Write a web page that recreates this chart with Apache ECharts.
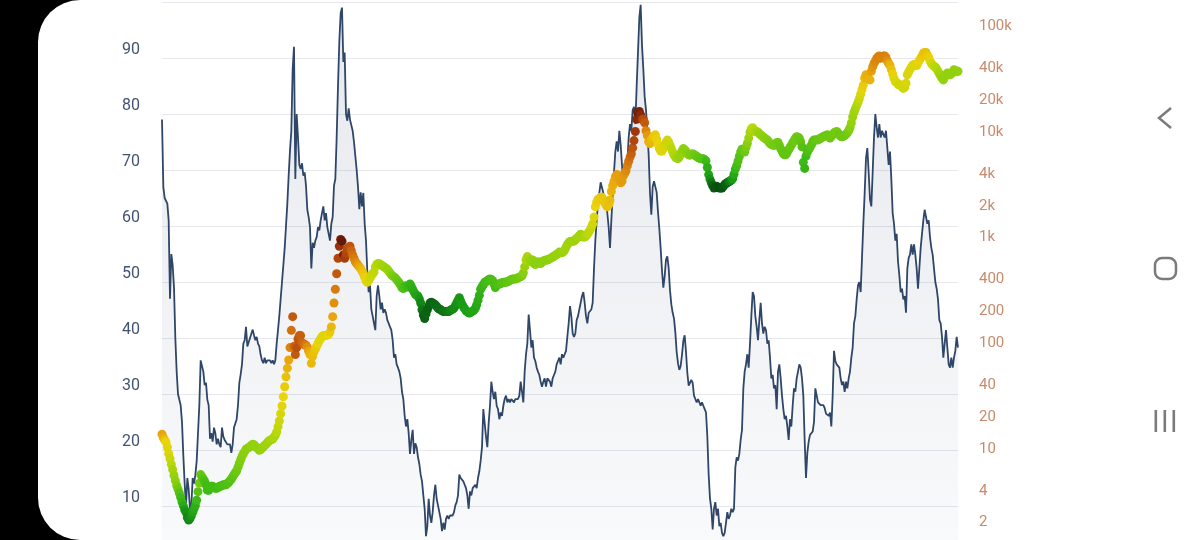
<!DOCTYPE html>
<html>
<head>
<meta charset="utf-8">
<script src="https://cdn.jsdelivr.net/npm/echarts@6/dist/echarts.min.js"></script>
<style>
html,body{margin:0;padding:0;background:#000;}
#chart{width:1200px;height:540px;}
</style>
</head>
<body>
<div id="chart"></div>
<script>
// time span (decimal years) covered by the evenly spaced samples below
const START_YEAR = 2011.5;
const END_YEAR = 2022.26;

// left axis tick labels (oscillator, 0-100)
const leftTickLabels = [10, 20, 30, 40, 50, 60, 70, 80, 90];
// right axis tick labels (price, log scale)
const rightTickLabels = [2, 4, 10, 20, 40, 100, 200, 400, 1000, 2000, 4000, 10000, 20000, 40000, 100000];

// oscillator (left axis)
const oscillator = [
79,67,65,65,64,61,47,55,53,49,
40,34,30,30,28,25,19,14,10,15,
13,9.5,10,15,14,15.5,18,23,28,36,
36,34,31.6,32,29,28,22,23,21.5,24,
23,21,22,21,20.5,24,22.4,21.8,22,21,
21,21,19.5,21,24,24,25.5,28,32,33.5,
35.3,39,39.6,42,38.5,38.5,40,40,41.5,40.5,
39.6,40.2,39,38.5,37,36,35.5,36.5,35.5,36,
36,36,35.5,36,35.3,36,39,41.4,44,47,
50,53,56,60,64,69,73.5,77,88,92,
68.4,80,75.8,70.9,70.2,71.2,69,69.6,67.2,62.9,
61.6,59.8,52.4,57,56.1,57.4,58,59.8,59.2,61,
62.3,63.5,61,62.3,59.8,58.6,57.4,60.4,61.6,67.2,
68.4,75.8,85,93,98,99,89.3,91,80,78.8,
81,79,79,77,75,72.5,70,67,63,66,
63.5,65.9,60.4,57.4,51.8,48.2,49.4,45.1,43.9,42.6,
41.4,47.5,49.4,47.5,45.1,46.3,44.5,45.1,44.5,43.2,
42.6,42,41.4,39.6,36.5,37.1,35.3,34.7,34,32.8,
30.4,29.1,26.1,24.2,25.5,23,19.3,21.8,23.6,19.3,
21.2,20.5,18.7,17.5,15.6,14.4,11.9,9.5,4.6,
6.4,11.3,8.3,7,8.9,11.9,13.8,11.3,10.1,8.9,
7.7,5.5,7,5.8,7.7,8.3,7.7,8.3,8,8.3,
8.9,10.1,10.7,11.9,15.6,15,15,14.4,13.8,13.2,
11.9,9.5,12.6,11.9,13.2,12.9,13.8,13.2,15,16.2,
18.1,20.5,27.3,24.8,22.4,20.5,24.8,27.9,32.2,30.4,
29.1,30.4,27.9,27.3,25.5,26.7,26.1,27.9,29.1,29.7,
28.5,29.1,28.5,29.1,29.1,28.5,29.1,28.8,29.1,29.7,
32.2,30.4,28.5,34,37.1,39,44.2,41.4,38.3,39.6,
36.5,35.9,34.7,34,33.4,32.2,31.3,32.2,32.8,31.3,
32.8,33.1,32.2,31.3,32.8,33.4,34,35.3,35.9,36.5,
35.3,37.1,36.5,37.1,37.7,40.2,42.6,45.7,43.9,40.8,
40.2,40.8,43.2,43.9,45.1,46.3,47.5,48.2,46.3,43.9,
42.6,44.5,44.5,45.1,46.3,52.4,57.4,61,64.1,65.9,
67.8,68.1,65.9,63.5,64.7,62.3,59.8,56.1,61,65.3,
69.6,73.3,75.1,73.3,77,74.5,70.9,67.2,69.6,70.2,
71.5,75.8,78.2,77,80.7,81.3,78.2,85,91.1,97.2,
99.5,92.3,88,83.1,80.7,77,72.7,65.9,62,67,
68,68,66,62.5,59.5,56,52,49,51,54,
54.6,52.5,48.5,46,44.5,43.5,41,37.5,35.5,34.3,
35,37,39.5,40.5,37.5,33.8,31.5,31.3,32.5,32,
29.7,29.1,28.5,29.1,28.5,27.9,28.5,27.9,27.3,26.7,
22.4,15.6,11.3,9.5,5.8,9.5,10.7,8.3,9.5,6.4,
7,5.2,4.6,5.2,7,8.9,7.7,8.3,9.5,8.9,
9.5,16.9,18.7,18.1,19.3,21.8,23.6,31,34,35.3,
37.1,34.7,39,43.9,48.2,47.5,43.9,42,39.6,43.2,
46.3,42.6,40.8,42,41.4,39,39.6,36.5,32.8,33.4,
31,31.6,27.3,34,35.3,32.8,29.7,27.3,25.5,26.1,
24.2,21.8,25.5,24.2,27.9,31,30.4,32.8,34,35.3,
34.7,32.8,29.7,21.8,15,19.5,21.5,22.7,23,23.3,
25,31,31,28.5,28.5,28,28,28,27.5,26.5,
26.5,
26.1,26.7,24.2,29.7,37.7,35.9,35.3,35.3,34.7,32.8,
31.6,32.2,30.4,32.2,31,32.8,34,36.5,38.3,42.6,
43.9,46.9,49.4,50,48.2,54.3,60.4,65.9,72.1,73.9,
69.6,64.7,63.5,69.6,75.8,80,77.6,75.8,78.2,75.8,
77,77,75.8,77,73.9,70.9,73.3,68.4,62.3,60.4,
57.4,58.6,53.7,51.2,48.2,48.8,46.9,47.5,44.5,52.4,
54.3,54.9,56.7,54.9,56.7,54.9,52.4,48.8,52.4,56.1,
58.6,61,62.9,61.6,60.4,61,58,56.1,54.9,52.4,
50,48.8,46.9,43.2,42.6,40.2,36.5,39,41.4,38.3,
35.3,34.7,36.5,34.7,36.5,37.7,40.2,38.3
];

// price in USD (right, log axis)
const price = [
16.2,15.0,14.3,13.7,12.2,10.6,9.5,8.4,7.5,6.6,
5.9,5.3,4.9,4.5,4.1,3.7,3.4,3.13,2.95,2.64,
2.5,2.58,2.74,2.95,3.18,3.43,3.84,4.63,5.58,6.72,
6.4,6.1,5.79,5.38,4.8,4.77,5.06,5.2,5.2,5.06,
4.99,4.99,5.06,5.2,5.2,5.3,5.38,5.38,5.38,5.55,
5.66,5.9,6.1,6.4,6.72,7.0,7.3,7.9,8.6,9.3,
10.0,10.6,11.1,11.7,11.9,12.1,12.3,12.7,13.0,12.9,
12.4,12.1,11.8,11.4,11.6,11.9,12.3,12.7,13.0,13.5,
13.9,14.2,14.4,14.6,15.2,15.9,17.0,19.1,21.6,25.3,
30,36.7,45.6,56.6,68.4,81.7,107,156,210,110,
92,107,129,139,139,119,115,115,112,108,
99,92,76,88.7,97.5,104,110,117,124,130,
136,139,139,139,141,143,150,168,210,283,
382,535,750,975,1130,1089,807,750,838,924,
952,975,884,807,750,695,670,645,621,598,
567,535,496,460,444,460,485,515,535,555,
621,655,670,665,650,640,626,616,602,589,
567,546,523,511,500,489,471,453,437,418,
394,388,406,412,400,403,428,406,382,360,
342,334,329,310,283,244,218,202,223,
244,263,283,287,283,277,272,263,253,248,
244,239,235,235,235,235,235,240,244,248,
253,267,283,300,317,294,275,261,250,239,
233,228,228,233,237,242,253,272,300,334,
382,403,421,444,450,460,471,478,471,460,
428,397,418,428,428,431,441,444,444,444,
450,457,464,471,478,478,478,481,489,496,
504,511,546,621,722,778,750,711,695,722,
670,655,685,695,680,670,690,706,716,722,
722,733,744,756,772,784,801,813,832,858,
845,850,863,897,952,1011,1050,1080,1089,1089,
1089,1122,1156,1191,1227,1265,1227,1191,1191,1227,
1265,1323,1385,1470,1585,1840,2300,2550,2710,2770,
2830,2830,2670,2530,2400,2300,2400,2670,3220,3650,
4030,4450,4650,4580,4190,3890,4030,4510,4750,5040,
5640,6210,6800,7320,8320,9750,11900,15500,18000,18400,
17100,15500,15500,14400,12100,10900,9500,9150,9900,10400,
10800,11050,10080,9030,8190,7780,7780,8190,8830,9370,
9900,9370,8830,8190,7600,7160,6800,6650,6600,6800,
7320,7780,8190,8000,7720,7320,7160,7100,7260,7320,
7200,7040,6890,6750,6650,6550,6550,6550,6450,6260,
5430,4650,4190,3890,3650,3470,3550,3600,3520,3470,
3470,3470,3600,3740,3830,3890,3980,4030,4130,4250,
4680,5240,5640,6210,6890,7600,8070,8000,7600,8380,
9150,10300,11700,12600,12900,12200,11900,11900,11700,11300,
11050,10800,10500,10300,10080,9900,9500,9150,8960,8830,
8830,8830,9300,9370,8830,8190,7720,7320,7160,7200,
7600,8000,8380,8830,9300,9750,10300,10600,10500,10300,
9500,8500,6070,5320,6950,7600,8000,8380,8830,9500,
9900,9900,9900,9900,10080,10300,10450,10600,10800,10900,
11050,
10700,10300,10700,11050,11550,11700,11900,11550,11050,10700,
10600,10700,10900,11200,11550,12100,12900,14300,16300,18000,
19400,20900,22500,24300,26800,29700,32700,38000,41000,39500,
37400,36600,44100,48700,52400,55300,58300,60500,61800,58700,
59600,61800,61800,59600,55300,52400,50100,45800,41600,38000,
35300,34500,33500,32700,32700,31500,30400,31100,34000,41000,
43500,45800,48400,50100,51300,50100,50100,53200,56100,58700,
61800,65500,66600,66600,63000,59600,55300,52400,50500,49400,
48400,46500,44100,41900,40100,38000,36600,39000,41000,42500,
41900,41000,41900,43500,45800,44700,43800,44100
];

// colour index of each price dot (0 = cool / dark green, 100 = hot / dark red)
const heat = [
70,68,64,60,58,56,54,50,47,45,
43,41,38,34,31,28,25,20,18,16,
16,17,19,22,24,26,30,35,39,38,
36,34,32,31,30,30,31,31,31,31,
31,31,31,32,32,32,32,33,33,33,
34,34,35,35,36,37,38,39,40,41,
42,42,43,43,43,43,43,44,44,44,
44,44,44,44,44,45,45,45,46,46,
46,47,47,47,48,48,50,52,54,56,
58,60,62,64,67,70,76,80,84,82,
84,86,85,84,83,82,82,80,78,74,
70,67,66,65,64,63,62,60,59,58,
58,58,58,58,59,60,62,66,70,74,
78,84,88,92,97,98,96,90,88,87,
86,85,82,80,78,76,74,72,70,67,
65,63,61,60,58,57,55,54,53,52,
51,50,49,48,48,47,47,46,46,45,
45,44,43,41,40,39,38,37,36,35,
34,33,32,31,30,29,28,27,26,25,
24,23,22,19,16,13,10,9,10,
9,9,10,10,10,11,11,11,12,12,
12,12,13,13,13,14,14,15,16,16,
17,17,18,18,19,19,20,20,20,21,
21,21,22,22,22,23,23,24,25,26,
27,28,29,30,31,31,32,32,32,33,
32,31,32,33,33,34,34,35,35,35,
36,36,36,37,37,37,38,38,38,39,
39,40,42,45,48,48,47,46,45,44,
43,43,43,43,43,43,43,43,43,43,
43,43,43,44,44,44,44,45,45,45,
45,45,45,46,46,46,46,46,46,46,
46,46,46,47,47,47,47,47,48,48,
50,51,52,53,55,57,60,61,62,62,
62,63,63,63,63,64,64,65,67,68,
69,70,71,71,71,71,72,72,73,75,
77,79,81,83,85,88,91,94,97,96,
94,90,87,84,76,72,69,67,66,64,
63,62,61,60,59,58,57,57,56,55,
55,54,53,51,50,49,48,47,46,45,
45,44,44,43,43,42,42,41,41,40,
39,38,37,36,36,35,35,35,34,30,
26,22,18,14,10,8,7,6,6,5,
5,6,7,8,9,10,12,14,16,20,
24,28,31,33,34,35,36,37,38,40,
42,45,47,49,50,49,48,47,46,45,
44,44,43,43,42,42,41,41,40,40,
39,39,39,38,38,37,37,36,36,36,
36,36,37,37,37,38,38,38,38,37,
36,34,30,28,30,32,33,34,35,35,
36,36,36,37,37,37,37,38,38,38,
38,
38,38,38,38,39,39,39,39,38,38,
38,38,38,39,39,40,42,44,45,46,
47,48,50,53,56,59,62,66,68,68,
67,67,71,73,74,75,76,77,77,76,
76,77,77,76,74,70,67,64,61,58,
57,56,56,55,55,55,55,55,56,57,
57,57,57,57,57,57,58,59,60,61,
62,63,64,64,63,61,58,56,54,52,
50,49,48,47,46,45,44,44,44,44,
44,44,44,44,44,44,44,44
];

const FONT = 'Roboto, "Noto Sans", "DejaVu Sans", sans-serif';
const step = (END_YEAR - START_YEAR) / (oscillator.length - 1);
const oscData = oscillator.map((v, i) => [START_YEAR + i * step, v]);
const priceData = price.map((v, i) => [START_YEAR + i * step, v, heat[i]]);

const chart = echarts.init(document.getElementById('chart'), null, { renderer: 'canvas' });

const navGrey = '#7b7b7b';
const option = {
  animation: false,
  backgroundColor: '#000000',
  grid: { left: 162, right: 242, top: 2, bottom: -22, containLabel: false, outerBoundsMode: 'none' },
  xAxis: {
    type: 'value', min: START_YEAR, max: END_YEAR, show: false
  },
  yAxis: [
    {
      type: 'value', position: 'left', min: 0, max: 100, interval: 10,
      axisLine: { show: false }, axisTick: { show: false },
      splitLine: { show: true, lineStyle: { color: '#e6e8ed', width: 1 } },
      axisLabel: {
        color: '#44536f', fontSize: 16, fontFamily: FONT, margin: 22, verticalAlign: 'bottom',
        formatter: v => leftTickLabels.indexOf(v) >= 0 ? String(v) : ''
      }
    },
    {
      type: 'log', logBase: 10, position: 'right', min: 1, max: 200000,
      axisLine: { show: false }, axisTick: { show: false }, splitLine: { show: false },
      axisLabel: {
        customValues: rightTickLabels,
        color: '#c98a6c', fontSize: 15, fontFamily: FONT, margin: 21, verticalAlign: 'bottom',
        formatter: v => v >= 1000 ? (v / 1000) + 'k' : String(v)
      }
    }
  ],
  visualMap: {
    show: false, type: 'continuous', seriesIndex: 1, dimension: 2, min: 0, max: 100,
    inRange: { color: ['#063a0a', '#0b6414', '#1a9c16', '#3cba16', '#79cc10', '#b8d80a', '#ead40a', '#e8a50c', '#d2700f', '#a83a0c', '#561106'] }
  },
  series: [
    {
      type: 'line', xAxisIndex: 0, yAxisIndex: 0, data: oscData,
      symbol: 'none', showSymbol: false, z: 2,
      lineStyle: { color: '#2f4668', width: 1.8 },
      areaStyle: {
        color: new echarts.graphic.LinearGradient(0, 0, 0, 1, [
          { offset: 0, color: 'rgba(58,80,115,0.18)' },
          { offset: 1, color: 'rgba(58,80,115,0.04)' }
        ])
      }
    },
    {
      type: 'scatter', xAxisIndex: 0, yAxisIndex: 1, data: priceData,
      symbol: 'circle', symbolSize: 9, z: 3,
      itemStyle: { opacity: 1 }
    }
  ],
  graphic: [
    { type: 'rect', z: -100, silent: true, shape: { x: 38, y: 0, width: 1250, height: 540, r: [42, 0, 0, 42] }, style: { fill: '#ffffff' } },
    { type: 'polyline', z: 10, silent: true, shape: { points: [[1171, 108], [1159, 118], [1171, 128]] }, style: { stroke: navGrey, lineWidth: 2.5, fill: null } },
    { type: 'rect', z: 10, silent: true, shape: { x: 1155, y: 258, width: 21, height: 21, r: 7 }, style: { stroke: navGrey, lineWidth: 2.5, fill: null } },
    { type: 'rect', z: 10, silent: true, shape: { x: 1154.5, y: 410, width: 2.6, height: 22 }, style: { fill: navGrey } },
    { type: 'rect', z: 10, silent: true, shape: { x: 1163.5, y: 410, width: 2.6, height: 22 }, style: { fill: navGrey } },
    { type: 'rect', z: 10, silent: true, shape: { x: 1172.5, y: 410, width: 2.6, height: 22 }, style: { fill: navGrey } }
  ]
};
if (oscillator.length !== price.length || price.length !== heat.length) {
  option.title = { text: 'len ' + oscillator.length + '/' + price.length + '/' + heat.length, left: 400, top: 200 };
}
chart.setOption(option);
</script>
</body>
</html>
